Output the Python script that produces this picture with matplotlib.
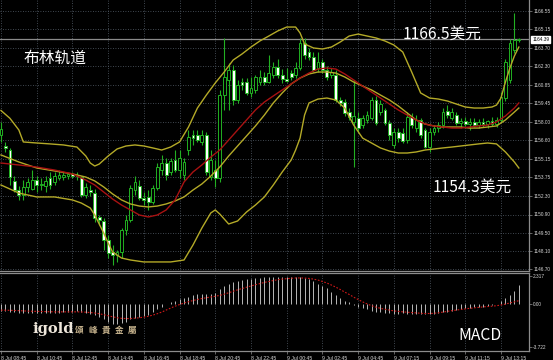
import numpy as np
import matplotlib.pyplot as plt

# XAU/USD 15-minute bars, 8 Jul 08:45 -> 9 Jul 14:15
opens = [1157.0, 1156.2, 1155.9, 1153.5, 1152.8, 1152.4, 1153.0, 1152.9, 1153.55, 1153.2,
         1153.1, 1153.7, 1153.4, 1153.7, 1153.8, 1153.9, 1154.0, 1153.9, 1153.8, 1152.4,
         1152.8, 1152.55, 1150.7, 1150.4, 1148.95, 1148.0, 1147.8, 1148.0, 1149.7, 1150.5,
         1152.8, 1153.1, 1152.2, 1152.25, 1151.85, 1152.95, 1154.3, 1154.85, 1154.2, 1155.1,
         1154.3, 1153.95, 1155.9, 1157.0, 1157.0, 1156.5, 1157.0, 1153.8, 1154.3, 1153.7,
         1160.1, 1161.25, 1162.0, 1159.7, 1161.1, 1161.1, 1160.25, 1160.5, 1161.1, 1161.5,
         1161.1, 1161.6, 1162.25, 1161.6, 1161.3, 1161.8, 1161.6, 1162.2, 1164.1, 1163.4,
         1163.0, 1162.2, 1162.6, 1162.0, 1161.6, 1161.6, 1159.7, 1159.55, 1158.8, 1158.0,
         1158.3, 1157.8, 1158.2, 1158.3, 1159.7, 1158.8, 1158.9, 1157.95, 1156.25, 1157.25,
         1157.2, 1156.6, 1158.4, 1157.55, 1158.2, 1157.4, 1156.1, 1157.25, 1157.55, 1157.8,
         1158.9, 1158.3, 1158.55, 1157.95, 1158.1, 1157.85, 1158.0, 1157.8, 1158.05, 1157.85,
         1158.1, 1157.9, 1158.2, 1159.9, 1161.25, 1163.55, 1164.3]
highs = [1158.0, 1156.5, 1156.0, 1153.9, 1153.1, 1153.55, 1153.7, 1154.3, 1153.9, 1153.7,
         1153.85, 1154.2, 1154.2, 1154.3, 1154.2, 1154.1, 1154.2, 1154.2, 1153.9, 1153.3,
         1153.2, 1152.9, 1150.9, 1150.6, 1149.3, 1148.55, 1148.2, 1149.9, 1150.85, 1153.2,
         1153.9, 1153.55, 1152.6, 1152.8, 1153.2, 1154.9, 1155.5, 1155.25, 1155.25, 1155.85,
         1155.85, 1155.25, 1157.4, 1157.4, 1157.4, 1157.4, 1157.25, 1155.9, 1155.1, 1160.5,
         1164.5, 1162.55, 1162.4, 1161.25, 1161.4, 1161.4, 1161.5, 1161.6, 1162.0, 1161.85,
         1163.2, 1162.6, 1162.9, 1162.1, 1162.2, 1162.0, 1162.6, 1164.5, 1164.5, 1163.7,
         1163.4, 1163.4, 1162.9, 1162.3, 1162.2, 1162.0, 1159.95, 1159.8, 1159.1, 1161.25,
         1158.8, 1158.55, 1158.9, 1159.94, 1160.0, 1159.7, 1159.1, 1158.2, 1157.55, 1157.55,
         1157.55, 1158.8, 1158.7, 1158.55, 1158.3, 1157.55, 1157.55, 1157.8, 1158.0, 1159.1,
         1159.3, 1159.1, 1158.8, 1158.3, 1158.4, 1158.3, 1158.3, 1158.25, 1158.3, 1158.2,
         1158.4, 1158.4, 1160.3, 1162.9, 1164.4, 1166.4, 1164.5]
lows = [1156.5, 1155.7, 1153.2, 1152.6, 1152.0, 1152.0, 1152.6, 1152.8, 1152.6, 1152.8,
        1152.6, 1152.9, 1153.2, 1153.55, 1153.55, 1153.6, 1153.7, 1153.55, 1152.25, 1152.2,
        1152.3, 1150.3, 1150.1, 1148.2, 1147.55, 1147.0, 1147.25, 1147.55, 1149.3, 1150.3,
        1152.4, 1152.0, 1151.6, 1151.25, 1151.7, 1152.8, 1153.95, 1153.55, 1153.95, 1154.2,
        1153.7, 1153.55, 1155.5, 1156.25, 1156.5, 1156.25, 1153.95, 1153.55, 1153.0, 1153.4,
        1158.95, 1158.95, 1159.3, 1159.5, 1160.5, 1160.1, 1159.95, 1160.25, 1160.85, 1160.85,
        1161.0, 1161.4, 1161.4, 1161.0, 1161.1, 1161.25, 1161.4, 1162.0, 1162.9, 1162.8,
        1161.85, 1161.85, 1161.75, 1161.25, 1161.4, 1159.55, 1159.25, 1158.5, 1158.2, 1154.55,
        1157.25, 1157.55, 1157.95, 1158.17, 1157.8, 1158.55, 1157.8, 1156.6, 1156.0, 1156.48,
        1156.4, 1156.4, 1157.55, 1157.25, 1156.8, 1156.0, 1155.7, 1157.0, 1157.25, 1157.55,
        1158.3, 1158.17, 1157.8, 1157.55, 1157.7, 1157.4, 1157.6, 1157.55, 1157.6, 1157.55,
        1157.7, 1157.6, 1158.0, 1159.6, 1161.0, 1163.3, 1164.2]
closes = [1157.5, 1156.0, 1153.8, 1152.8, 1152.4, 1153.0, 1153.4, 1153.55, 1153.2, 1153.25,
          1153.5, 1153.2, 1153.85, 1153.9, 1153.95, 1154.0, 1153.85, 1153.95, 1152.4, 1153.0,
          1152.6, 1150.6, 1150.5, 1148.95, 1147.95, 1147.8, 1148.0, 1149.7, 1150.5, 1152.95,
          1153.4, 1152.2, 1152.0, 1151.85, 1152.95, 1154.55, 1154.9, 1153.95, 1155.0, 1154.3,
          1155.25, 1154.95, 1156.85, 1156.8, 1156.6, 1157.0, 1154.2, 1155.1, 1153.7, 1160.1,
          1161.5, 1162.0, 1159.7, 1160.85, 1160.85, 1160.25, 1160.6, 1161.5, 1161.5, 1161.1,
          1161.8, 1162.25, 1161.6, 1161.3, 1161.2, 1161.5, 1162.2, 1164.1, 1163.2, 1163.0,
          1162.0, 1162.6, 1162.0, 1161.5, 1161.85, 1159.7, 1159.5, 1158.7, 1158.4, 1158.5,
          1157.55, 1158.3, 1158.55, 1159.7, 1157.95, 1159.4, 1157.95, 1157.0, 1157.25, 1156.8,
          1156.55, 1158.4, 1157.8, 1158.2, 1157.0, 1156.1, 1157.25, 1157.55, 1157.8, 1158.8,
          1158.55, 1158.8, 1157.95, 1158.1, 1157.85, 1158.0, 1157.8, 1158.05, 1157.85, 1158.1,
          1157.9, 1158.2, 1159.9, 1162.6, 1164.1, 1164.3, 1164.39]

# Bollinger bands (olive) and moving average (red), read at selected bars
upper_idx = [0, 2, 4, 5, 8, 11, 14, 17, 19, 20, 21, 22, 24, 26, 28, 30, 32, 34, 36, 38,
             40, 42, 44, 46, 48, 50, 52, 54, 56, 58, 60, 62, 64, 66, 67, 68, 70, 72, 74, 76,
             78, 80, 82, 84, 86, 88, 90, 92, 94, 96, 98, 100, 102, 104, 106, 108, 110, 111, 112,
             113, 114, 115, 116]
upper_band = [1158.90, 1158.30, 1157.40, 1156.48, 1156.40, 1156.33, 1156.25, 1156.09, 1155.40,
              1154.86, 1154.63, 1154.78, 1155.40, 1155.94, 1156.17, 1156.25, 1156.17, 1156.02,
              1155.86, 1156.09, 1156.48, 1157.63, 1159.09, 1160.09, 1161.02, 1161.86, 1162.78,
              1163.25, 1163.78, 1164.25, 1164.63, 1165.02, 1165.32, 1165.32, 1164.86, 1164.02,
              1163.71, 1163.63, 1163.78, 1164.17, 1164.63, 1164.78, 1164.63, 1164.48, 1164.25,
              1163.94, 1163.40, 1161.86, 1160.25, 1159.86, 1159.78, 1159.63, 1159.40, 1159.17,
              1159.09, 1159.09, 1159.17, 1159.32, 1159.86, 1161.09, 1162.17, 1163.09, 1163.78]

mid_idx = [0, 4, 8, 12, 16, 19, 21, 23, 25, 27, 29, 31, 33, 35, 37, 39, 41, 43, 45, 47,
           49, 51, 53, 55, 57, 59, 61, 63, 65, 67, 69, 71, 73, 75, 77, 79, 81, 83, 85, 87,
           89, 91, 93, 95, 97, 99, 101, 103, 105, 107, 109, 111, 113, 115, 116]
mid_band = [1155.48, 1154.94, 1154.48, 1154.25, 1154.02, 1153.78, 1153.48, 1153.02, 1152.48,
            1152.02, 1151.71, 1151.55, 1151.48, 1151.55, 1151.71, 1151.94, 1152.25, 1152.78,
            1153.25, 1153.86, 1154.55, 1155.40, 1156.17, 1156.94, 1157.71, 1158.55, 1159.48,
            1160.25, 1160.94, 1161.40, 1161.71, 1161.86, 1161.86, 1161.78, 1161.48, 1161.09,
            1160.78, 1160.48, 1160.09, 1159.71, 1159.25, 1158.71, 1158.17, 1157.86, 1157.71,
            1157.63, 1157.63, 1157.63, 1157.55, 1157.55, 1157.63, 1157.71, 1158.17, 1158.78,
            1159.09]
red_ma = [1154.86, 1154.71, 1154.55, 1154.32, 1154.02, 1153.55, 1153.17, 1152.63, 1152.09,
          1151.63, 1151.25, 1150.86, 1150.71, 1150.86, 1151.25, 1152.02, 1153.40, 1154.17,
          1154.71, 1155.32, 1155.86, 1156.63, 1157.40, 1158.17, 1158.94, 1159.55, 1160.02,
          1160.48, 1160.94, 1161.40, 1161.78, 1162.09, 1162.17, 1162.09, 1161.71, 1161.25,
          1160.78, 1160.32, 1159.86, 1159.40, 1158.94, 1158.55, 1158.17, 1157.86, 1157.71,
          1157.63, 1157.55, 1157.55, 1157.63, 1157.71, 1157.78, 1158.02, 1158.48, 1159.09,
          1159.48]

lower_idx = [0, 4, 8, 12, 16, 18, 20, 21, 22, 23, 24, 25, 27, 29, 32, 35, 38, 41, 43, 45,
             47, 48, 49, 51, 53, 55, 57, 59, 61, 63, 65, 66, 67, 68, 69, 71, 73, 75, 77, 79,
             81, 83, 85, 87, 89, 91, 93, 95, 97, 99, 101, 103, 105, 107, 109, 111, 113, 115, 116]
lower_band = [1153.17, 1152.55, 1152.25, 1152.25, 1152.02, 1151.78, 1151.40, 1150.86, 1150.17,
              1149.48, 1148.71, 1148.02, 1147.55, 1147.40, 1147.25, 1147.25, 1147.25, 1147.40,
              1148.55, 1149.86, 1151.02, 1151.25, 1150.94, 1150.17, 1150.40, 1151.09, 1151.63,
              1152.25, 1153.17, 1154.17, 1155.09, 1155.86, 1156.78, 1158.55, 1159.48, 1159.78,
              1159.86, 1159.71, 1159.09, 1157.78, 1156.78, 1156.40, 1156.02, 1155.78, 1155.63,
              1155.63, 1155.71, 1155.86, 1155.94, 1156.02, 1156.09, 1156.17, 1156.25, 1156.33,
              1156.40, 1156.33, 1155.71, 1154.94, 1154.48]

# MACD main (histogram) and signal (red dotted), one value per bar
macd_main = [-0.60, -0.62, -0.68, -0.75, -0.80, -0.82, -0.80, -0.78,
             -0.78, -0.80, -0.80, -0.82, -0.80, -0.76, -0.72, -0.70, -0.68, -0.66, -0.72, -0.78, -0.85, -0.98,
             -1.15, -1.35, -1.55, -1.70, -1.72, -1.65, -1.55, -1.35, -1.20, -1.10, -1.05,
             -0.95, -0.75, -0.50, -0.25, -0.05, 0.10, 0.25, 0.40,
             0.45, 0.60, 0.70, 0.80, 0.85, 0.80, 0.80,
             0.90, 1.20, 1.50, 1.70, 1.85,
             1.95, 2.00, 2.05, 2.10, 2.15, 2.20, 2.25, 2.28,
             2.30, 2.30, 2.28, 2.25, 2.25, 2.30, 2.28, 2.20, 2.10,
             1.90, 1.70, 1.50, 1.30, 1.00, 0.70, 0.45, 0.25, 0.10, -0.10, -0.25,
             -0.40, -0.50, -0.60, -0.68, -0.72, -0.78, -0.82, -0.85,
             -0.85, -0.82, -0.85, -0.86, -0.88, -0.90, -0.90, -0.88, -0.85, -0.80,
             -0.75, -0.70, -0.62, -0.55, -0.48, -0.40, -0.35, -0.30, -0.28, -0.25, -0.20, -0.15,
             -0.05, 0.20, 0.45, 0.75, 1.10, 1.55]
macd_signal = [-0.55, -0.56, -0.57, -0.58, -0.60, -0.62, -0.64, -0.65,
               -0.66, -0.67, -0.68, -0.69, -0.70, -0.70, -0.70, -0.70, -0.70, -0.70, -0.71, -0.73, -0.76, -0.80,
               -0.86, -0.94, -1.03, -1.12, -1.20, -1.25, -1.27, -1.27, -1.24, -1.20, -1.15,
               -1.08, -0.98, -0.86, -0.72, -0.55, -0.38, -0.22, -0.08,
               0.05, 0.16, 0.26, 0.35, 0.43, 0.50, 0.56,
               0.62, 0.70, 0.80, 0.92, 1.05,
               1.17, 1.28, 1.39, 1.50, 1.60, 1.70, 1.80, 1.88,
               1.96, 2.03, 2.08, 2.12, 2.15, 2.18, 2.18, 2.17, 2.14,
               2.08, 2.00, 1.88, 1.75, 1.58, 1.40, 1.20, 0.98, 0.78, 0.55, 0.35,
               0.15, -0.02, -0.18, -0.30, -0.40, -0.48, -0.55, -0.62,
               -0.66, -0.70, -0.73, -0.76, -0.79, -0.82, -0.84, -0.84, -0.82, -0.78,
               -0.72, -0.66, -0.60, -0.55, -0.50, -0.45, -0.40, -0.36, -0.32, -0.28, -0.25, -0.22,
               -0.18, -0.12, -0.04, 0.06, 0.15, 0.25]

time_labels = ['8 Jul 08:45', '8 Jul 10:45', '8 Jul 12:45', '8 Jul 14:45', '8 Jul 16:45',
               '8 Jul 18:45', '8 Jul 20:45', '8 Jul 22:45', '9 Jul 00:45', '9 Jul 02:45',
               '9 Jul 04:45', '9 Jul 07:15', '9 Jul 09:15', '9 Jul 11:15', '9 Jul 13:15']
time_label_bars = [0, 8, 16, 24, 32, 40, 48, 56, 64, 72, 80, 88, 96, 104, 112]
price_ticks = [1166.55, 1165.15, 1163.70, 1162.30, 1160.85, 1159.45, 1158.00, 1156.60,
               1155.15, 1153.75, 1152.30, 1150.90, 1149.50, 1148.10, 1146.70]
last_price = 1164.39
macd_ticks = [2.317, 0.0, -3.722]
macd_tick_labels = ['2.317', '0.00', '-3.722']
logo_chars = ['頌', '峰', '貴', '金', '屬']

# ---- styling ----
W, H = 553, 360
bg = 'black'
green = '#22b022'
olive = '#b4aa28'
red = '#a81212'
grid_c = '#56606c'
axis_c = '#8c8c8c'
txt_c = '#d8d8d8'
small = dict(family='Liberation Sans', size=3.4)

fig = plt.figure(figsize=(W / 100, H / 100), dpi=100, facecolor=bg)
ax = fig.add_axes([0, 1 - 271 / H, 529 / W, 271 / H], facecolor=bg)
ax2 = fig.add_axes([0, 1 - 351 / H, 529 / W, 78 / H], facecolor=bg)

idx = np.arange(len(closes))
o = np.array(opens)
c = np.array(closes)
up = c >= o

# grid
for a in (ax, ax2):
    for b in time_label_bars:
        a.axvline(b, color=grid_c, lw=0.6, ls=(0, (1, 2)), zorder=0)
for p in price_ticks:
    ax.axhline(p, color=grid_c, lw=0.6, ls=(0, (1, 2)), zorder=0)

ax.axhline(last_price, color='#8a8a8a', lw=0.9, zorder=1)

# candles: bull = black body, bear = white body
ax.vlines(idx, lows, highs, color=green, lw=0.8, zorder=2)
body_lo = np.minimum(o, c)
body_h = np.maximum(np.abs(c - o), 0.05)
ax.bar(idx[up], body_h[up], width=0.62, bottom=body_lo[up], color='black',
       edgecolor=green, lw=0.7, zorder=3)
ax.bar(idx[~up], body_h[~up], width=0.62, bottom=body_lo[~up], color='white',
       edgecolor=green, lw=0.7, zorder=3)

# bands
ax.plot(upper_idx, upper_band, color=olive, lw=1.0, zorder=4)
ax.plot(mid_idx, mid_band, color=olive, lw=1.0, zorder=4)
ax.plot(lower_idx, lower_band, color=olive, lw=1.0, zorder=4)
ax.plot(mid_idx, red_ma, color=red, lw=1.0, zorder=4)

x_left = -1 / 4.464
x_right = 528 / 4.464
ax.set_xlim(x_left, x_right)
ax.set_ylim(1167.40 - 271 / 13.0, 1167.40)

ax.yaxis.tick_right()
ax.set_yticks(price_ticks)
ax.set_yticklabels([f'{p:.2f}' for p in price_ticks], fontdict=small)
ax.tick_params(axis='y', colors=axis_c, labelcolor=txt_c, length=2, width=0.5, pad=1)
ax.set_xticks([])
for s in ('top', 'left'):
    ax.spines[s].set_visible(False)
for s in ('right', 'bottom'):
    ax.spines[s].set_color(axis_c)
    ax.spines[s].set_linewidth(0.9)

ax.text(1.006, last_price, f'{last_price:.2f}', transform=ax.get_yaxis_transform(),
        color='black', va='center', ha='left', fontdict=small,
        bbox=dict(boxstyle='square,pad=0.2', fc='white', ec='white'))

# MACD panel
ax2.vlines(idx, 0, macd_main, color='#b8b8b8', lw=0.7, zorder=2)
ax2.plot(idx, macd_signal, color='#d01818', lw=0.8, ls=(0, (1.5, 1.5)), zorder=3)
ax2.set_xlim(x_left, x_right)
ax2.set_ylim(-(351 - 303) / 11.92, (303 - 272) / 11.92)
ax2.yaxis.tick_right()
ax2.set_yticks(macd_ticks)
ax2.set_yticklabels(macd_tick_labels, fontdict=small)
ax2.tick_params(axis='y', colors=axis_c, labelcolor=txt_c, length=2, width=0.5, pad=1)
ax2.set_xticks(time_label_bars)
ax2.set_xticklabels(time_labels, ha='left', fontdict=dict(family='Liberation Sans', size=3.7))
ax2.tick_params(axis='x', colors=axis_c, labelcolor=txt_c, length=2, width=0.5, pad=1.5)
ax2.spines['left'].set_visible(False)
for s in ('top', 'right', 'bottom'):
    ax2.spines[s].set_color(axis_c)
    ax2.spines[s].set_linewidth(0.9)

# annotations
cjk = ['Noto Sans CJK SC', 'DejaVu Sans']
fig.text(24 / W, 1 - 58 / H, '布林轨道', family=cjk, fontsize=11.3, color='white', va='center')
fig.text(403 / W, 1 - 34 / H, '1166.5美元', family=cjk, fontsize=11.3, color='white', va='center')
fig.text(433 / W, 1 - 187 / H, '1154.3美元', family=cjk, fontsize=11.3, color='white', va='center')
fig.text(458 / W, 1 - 336 / H, 'MACD', family=cjk, fontsize=11.3, color='white', va='center')
fig.text(32 / W, 1 - 329 / H, 'igold', family='DejaVu Serif', fontweight='bold', fontsize=10.5,
         color='#eee6da', va='center')
for k, ch in enumerate(logo_chars):
    fig.text((75 + 13.3 * k) / W, 1 - 330 / H, ch, family=['Noto Sans CJK TC', 'DejaVu Sans'],
             fontweight='bold', fontsize=6.2, color='#c8b48e', va='center')

fig.savefig('out.png', dpi=100, facecolor=bg)
